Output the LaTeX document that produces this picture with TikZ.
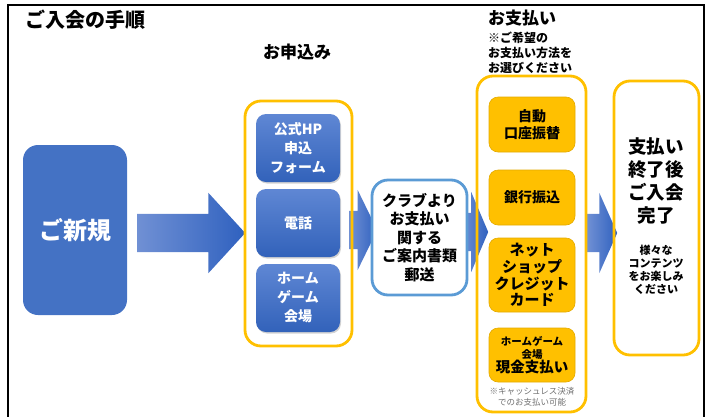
\documentclass[tikz,border=0pt]{standalone}
\usepackage{fontspec}
\setmainfont{Noto Sans CJK JP}
\usetikzlibrary{shapes.arrows,shadows}
\definecolor{newblue}{HTML}{4472C4}
\definecolor{boxtop}{HTML}{5F87D4}
\definecolor{boxbot}{HTML}{3262BA}
\definecolor{arrleft}{HTML}{7090D4}
\definecolor{arrright}{HTML}{2F61BF}
\definecolor{gold}{HTML}{FFC000}
\definecolor{goldline}{HTML}{E3AA00}
\definecolor{skyline}{HTML}{5B9BD5}
\definecolor{notegray}{HTML}{707070}
\tikzset{
  txt_n/.style = {align=center, inner sep=0pt, text centered, font=\bfseries},
  new_n/.style = {txt_n, rounded corners=15pt, fill=newblue, text=white,
    minimum width=104pt, minimum height=170pt,
    font=\bfseries\fontsize{24}{28}\selectfont},
  blu_n/.style = {txt_n, rounded corners=10pt, top color=boxtop,
    bottom color=boxbot, text=white, minimum width=84pt, minimum height=68pt,
    drop shadow={opacity=0.35, shadow xshift=1pt, shadow yshift=-1.5pt},
    font=\bfseries\fontsize{14}{19}\selectfont},
  ylw_n/.style = {txt_n, rounded corners=9pt, fill=gold, draw=goldline,
    line width=0.6pt, minimum width=86pt,
    font=\bfseries\fontsize{14}{17}\selectfont},
  frm_n/.style = {rounded corners=16pt, draw=gold, line width=2.8pt},
  arr_n/.style = {single arrow, anchor=tail, inner sep=0pt, text height=38pt,
    text depth=0pt, left color=arrleft, right color=arrright,
    single arrow head extend=21pt}}

\begin{document}
\begin{tikzpicture}[x=1pt,y=-1pt]
\useasboundingbox (0,0) rectangle (710,416);
\draw[line width=1.2pt] (8,430) -- (8,5) -- (704,5) -- (704,430);

% headings
\node[txt_n, anchor=west, font=\bfseries\fontsize{20}{24}\selectfont] (title) at (25,20) {ご入会の手順};
\node[txt_n, font=\bfseries\fontsize{17}{20}\selectfont] (apply) at (297,52) {お申込み};
\node[txt_n, anchor=west, font=\bfseries\fontsize{17}{20}\selectfont] (pay) at (488,18) {お支払い};
\node[txt_n, anchor=west, align=left, font=\bfseries\fontsize{12}{15}\selectfont] (paynote) at (488,53) {※ご希望の\\お支払い方法を\\お選びください};

% block arrows
\node[arr_n, minimum height=108pt, single arrow tip angle=95] (a1) at (137,233) {};
\node[arr_n, minimum height=28pt, single arrow tip angle=128] (a2) at (349,230) {};
\node[arr_n, minimum height=26pt, single arrow tip angle=134] (a3) at (462,232) {};
\node[arr_n, minimum height=30pt, single arrow tip angle=132] (a4) at (587,233) {};

% new member
\node[new_n] (new) at (75,230) {ご新規};

% application
\node[frm_n, minimum width=107pt, minimum height=245pt] (applyfrm) at (298.5,223.5) {};
\node[blu_n] (web) at (298,148) {公式HP\\申込\\フォーム};
\node[blu_n] (tel) at (298,223) {電話};
\node[blu_n] (venue) at (298,298) {ホーム\\ゲーム\\会場};

% mail
\node[txt_n, rounded corners=16pt, draw=skyline, line width=2.8pt, fill=white,
  minimum width=95pt, minimum height=115pt, font=\bfseries\fontsize{15}{18.5}\selectfont] (mail) at (419.5,237.5) {クラブより\\お支払い\\関する\\ご案内書類\\郵送};

% payment
\node[frm_n, minimum width=109pt, minimum height=336pt] (payfrm) at (531.5,244) {};
\node[ylw_n, minimum height=55pt] (auto) at (532,124.5) {自動\\口座振替};
\node[ylw_n, minimum height=55pt] (bank) at (532,197.5) {銀行振込};
\node[ylw_n, minimum height=74pt, font=\bfseries\fontsize{15}{16.7}\selectfont] (card) at (532,275) {ネット\\ショップ\\クレジット\\カード};
\node[ylw_n, minimum height=54pt, font=\bfseries\fontsize{10.5}{13}\selectfont] (cash) at (532,355) {ホームゲーム\\会場\\{\fontsize{14.5}{14}\selectfont 現金支払い}};
\node[txt_n, text=notegray, font=\fontsize{8.5}{11}\selectfont] (cashnote) at (532,397) {※キャッシュレス決済\\でのお支払い可能};

% done
\node[frm_n, minimum width=85pt, minimum height=274pt] (donefrm) at (656.5,218) {};
\node[txt_n, font=\bfseries\fontsize{18.5}{22.7}\selectfont] (done) at (656,181) {支払い\\終了後\\ご入会\\完了};
\node[txt_n, font=\bfseries\fontsize{11}{13}\selectfont] (enjoy) at (656,270) {様々な\\コンテンツ\\をお楽しみ\\ください};
\end{tikzpicture}
\end{document}
